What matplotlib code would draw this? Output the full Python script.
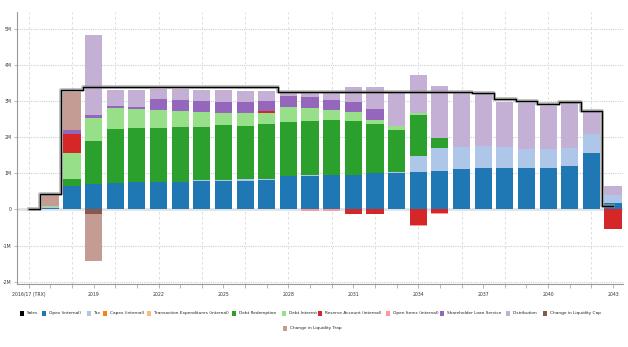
import numpy as np
import matplotlib.pyplot as plt
from matplotlib.patches import Rectangle

plt.rcParams['font.family'] = ['Liberation Sans Narrow', 'DejaVu Sans']

# one column per year, first one is the transaction date
years = ["2016/17 (TRX)"] + [str(y) for y in range(2017, 2044)]

sales = [0, 0.42, 3.30, 3.38, 3.38, 3.38, 3.38, 3.38, 3.38, 3.38, 3.38, 3.38,
         3.24, 3.24, 3.24, 3.24, 3.24, 3.24, 3.24, 3.24, 3.24,
         3.21, 3.05, 3.00, 2.91, 2.98, 2.73, 0.09]

opex = [0, 0.04, 0.65, 0.70, 0.74, 0.75, 0.75, 0.76, 0.79, 0.79, 0.80, 0.81,
        0.92, 0.93, 0.95, 0.95, 1.00, 1.02, 1.04, 1.07, 1.11, 1.14, 1.14, 1.15,
        1.15, 1.20, 1.55, 0.19]
tax = [0, 0.02, 0, 0, 0, 0, 0, 0.01, 0.03, 0.03, 0.03, 0.04, 0.01, 0.01, 0.01,
       0.01, 0.01, 0.01, 0.45, 0.64, 0.62, 0.61, 0.58, 0.52, 0.52, 0.51, 0.54, 0.21]
capex = [0] * 28
trans_exp = [0, 0.02] + [0] * 26
debt_red = [0, 0, 0.20, 1.20, 1.48, 1.49, 1.49, 1.51, 1.47, 1.51, 1.48, 1.51,
            1.50, 1.50, 1.52, 1.50, 1.34, 1.18, 1.12, 0.28, 0, 0, 0, 0, 0, 0, 0, 0]
debt_int = [0, 0.03, 0.70, 0.62, 0.58, 0.53, 0.51, 0.44, 0.40, 0.35, 0.35, 0.32,
            0.41, 0.37, 0.28, 0.24, 0.13, 0.09, 0.05, 0, 0, 0, 0, 0, 0, 0, 0, 0]
reserve = [0, 0, 0.55, 0, 0, 0, 0, 0, 0, 0, 0, 0.03, 0, 0, 0, -0.12, -0.12, 0,
           -0.43, -0.11, 0, 0, 0, 0, 0, 0, 0, -0.55]
open_items = [0, 0, 0, 0, 0, 0, 0, 0, 0, 0, 0, 0, 0, -0.05, -0.05, 0, 0, 0,
              -0.03, -0.02, 0, 0, 0, 0, 0, 0, 0, 0]
sh_loan = [0, 0, 0.10, 0.09, 0.06, 0.05, 0.30, 0.30, 0.30, 0.30, 0.30, 0.30,
           0.31, 0.30, 0.28, 0.27, 0.30, 0, 0, 0, 0, 0, 0, 0, 0, 0, 0, 0]
distribution = [0, 0, 0, 2.21, 0.44, 0.48, 0.27, 0.31, 0.31, 0.31, 0.31, 0.27,
                0.07, 0.11, 0.18, 0.42, 0.61, 0.92, 1.06, 1.42, 1.50, 1.43, 1.26,
                1.28, 1.19, 1.23, 0.61, 0.25]
liq_cap = [0, 0, 0, -0.12] + [0] * 24
liq_trap = [0, 0.30, 1.04, -1.30] + [0] * 24

series = [
    ("Opex (internal)", opex, "#1f77b4"),
    ("Tax", tax, "#aec7e8"),
    ("Capex (internal)", capex, "#ff7f0e"),
    ("Transaction Expenditures (internal)", trans_exp, "#ffbb78"),
    ("Debt Redemption", debt_red, "#2ca02c"),
    ("Debt Interest", debt_int, "#98df8a"),
    ("Reserve Account (internal)", reserve, "#d62728"),
    ("Open Items (internal)", open_items, "#ff9896"),
    ("Shareholder Loan Service", sh_loan, "#9467bd"),
    ("Distribution", distribution, "#c5b0d5"),
    ("Change in Liquidity Cap", liq_cap, "#8c564b"),
    ("Change in Liquidity Trap", liq_trap, "#c49c94"),
]

# legend key positions in pixels (left edge of the swatch, row centre)
legend_pos = [(20, 313), (42, 313), (87, 313), (103, 313), (147, 313),
              (232, 313), (282, 313), (318, 313), (386, 313), (440, 313),
              (506, 313), (543, 313), (283, 328)]

W, H = 628, 347
x = np.arange(len(years))
fs = 3.1

fig = plt.figure(figsize=(W / 100, H / 100), dpi=100)
ax = fig.add_axes([17 / W, 1 - 284 / H, 606 / W, 272 / H])

# grid first so it sits behind the bars
for v in range(-2, 6):
    ax.axhline(v, color="#cfcfcf", lw=0.8, ls=(0, (1, 1)), zorder=0)
for i in range(0, len(years), 2):
    ax.axvline(i, color="#d8d8d8", lw=0.6, ls=(0, (3, 3)), zorder=0)
ax.axhline(0, color="#e2e2e2", lw=2.0, zorder=0.5)

pos = np.zeros(len(x))
neg = np.zeros(len(x))
for name, vals, col in series:
    v = np.array(vals, dtype=float)
    base = np.where(v >= 0, pos, neg)
    ax.bar(x, v, 0.79, bottom=base, color=col, lw=0, zorder=2)
    pos += np.clip(v, 0, None)
    neg += np.clip(v, None, 0)

ax.step(x, sales, where="mid", color="#9a9a9a", lw=2.6, alpha=0.7, zorder=3)
ax.step(x, sales, where="mid", color="black", lw=1.0, zorder=4)

ax.set_xlim(-0.54, 27.46)
ax.set_ylim(-2.06, 5.46)

ax.set_xticks(x[::3])
ax.set_xticklabels(years[::3], fontsize=fs + 0.2, color="#333333")
ax.set_xticks(x, minor=True)
ax.tick_params(axis="x", which="both", length=3, width=0.5, color="#999999", pad=3)

yt = list(range(-2, 6))
ax.set_yticks(yt)
ax.set_yticklabels([f"{v}M" if v else "0" for v in yt], fontsize=fs + 0.2,
                   color="#333333")
ax.tick_params(axis="y", length=2, width=0.5, color="#999999", pad=2)

for s in ["top", "right"]:
    ax.spines[s].set_visible(False)
for s in ["left", "bottom"]:
    ax.spines[s].set_color("#999999")
    ax.spines[s].set_linewidth(0.8)

# legend drawn as swatch + label pairs
entries = [("Sales", "black")] + [(n, c) for n, _, c in series]
for (label, col), (px, py) in zip(entries, legend_pos):
    fig.add_artist(Rectangle((px / W, 1 - (py + 2.5) / H), 4 / W, 5 / H,
                             transform=fig.transFigure, color=col, lw=0))
    fig.text((px + 7) / W, 1 - py / H, label, fontsize=fs, color="#222222",
             ha="left", va="center")

fig.savefig("out.png", dpi=100)
